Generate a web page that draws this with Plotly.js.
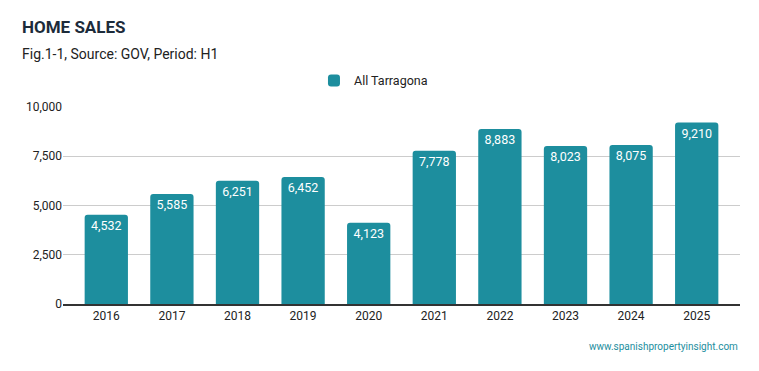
<!DOCTYPE html>
<html><head><meta charset="utf-8">
<script src="https://cdn.plot.ly/plotly-3.0.1.min.js"></script>
<style>body{margin:0;padding:0;background:#fff}#chart{width:759px;height:371px}</style>
</head><body><div id="chart"></div>
<script>
const years = ['2016','2017','2018','2019','2020','2021','2022','2023','2024','2025'];
const sales = [4532,5585,6251,6452,4123,7778,8883,8023,8075,9210];
const seriesName = 'All Tarragona';
const yTicks = [0,2500,5000,7500,10000];
const yTickLabels = ['0','2,500','5,000','7,500','10,000'];

const trace = {
  type:'bar', x:years, y:sales, name:seriesName,
  marker:{color:'#1d8e9e', cornerradius:3},
  width:0.66,
  text:sales.map(v=>v.toLocaleString('en-US')),
  textposition:'inside', insidetextanchor:'end',
  textfont:{color:'#ffffff', size:12.5, family:'Roboto'},
  hoverinfo:'x+y', showlegend:true
};
const layout = {
  width:759, height:371,
  margin:{l:63, r:19, t:107, b:67},
  paper_bgcolor:'#fff', plot_bgcolor:'#fff',
  font:{family:'Roboto', color:'#222'},
  showlegend:true,
  legend:{orientation:'h', x:0.4586, xanchor:'center', xref:'paper', y:1.132, yanchor:'middle', font:{size:12.5,color:'#222'}},
  xaxis:{type:'category', range:[-0.66,9.66], showgrid:false, ticks:'', tickfont:{size:12,color:'#222'},
         showline:true, linecolor:'#333', linewidth:1.5, zeroline:false},
  yaxis:{range:[0,10000], tickvals:yTicks, ticktext:yTickLabels, showgrid:true, gridcolor:'#cccccc',
         tickfont:{size:12,color:'#222'}, zeroline:false, showline:false, ticks:'', ticklen:0, automargin:false},
  annotations:[
    {text:'<b>HOME SALES</b>', xref:'paper', yref:'paper', x:-0.064, y:1.0, xanchor:'left', yanchor:'middle', showarrow:false,
     font:{size:17,color:'#1c2b3a'}, yshift:80},
    {text:'Fig.1-1, Source: GOV, Period: H1', xref:'paper', yref:'paper', x:-0.064, y:1.0, xanchor:'left', yanchor:'middle', showarrow:false,
     font:{size:14,color:'#222'}, yshift:53},
    {text:'www.spanishpropertyinsight.com', xref:'paper', yref:'paper', x:1.0, y:0, xanchor:'right', yanchor:'middle', showarrow:false,
     font:{size:10,color:'#1d8e9e'}, yshift:-42}
  ]
};
Plotly.newPlot('chart',[trace],layout,{displayModeBar:false, staticPlot:true});
</script></body></html>
